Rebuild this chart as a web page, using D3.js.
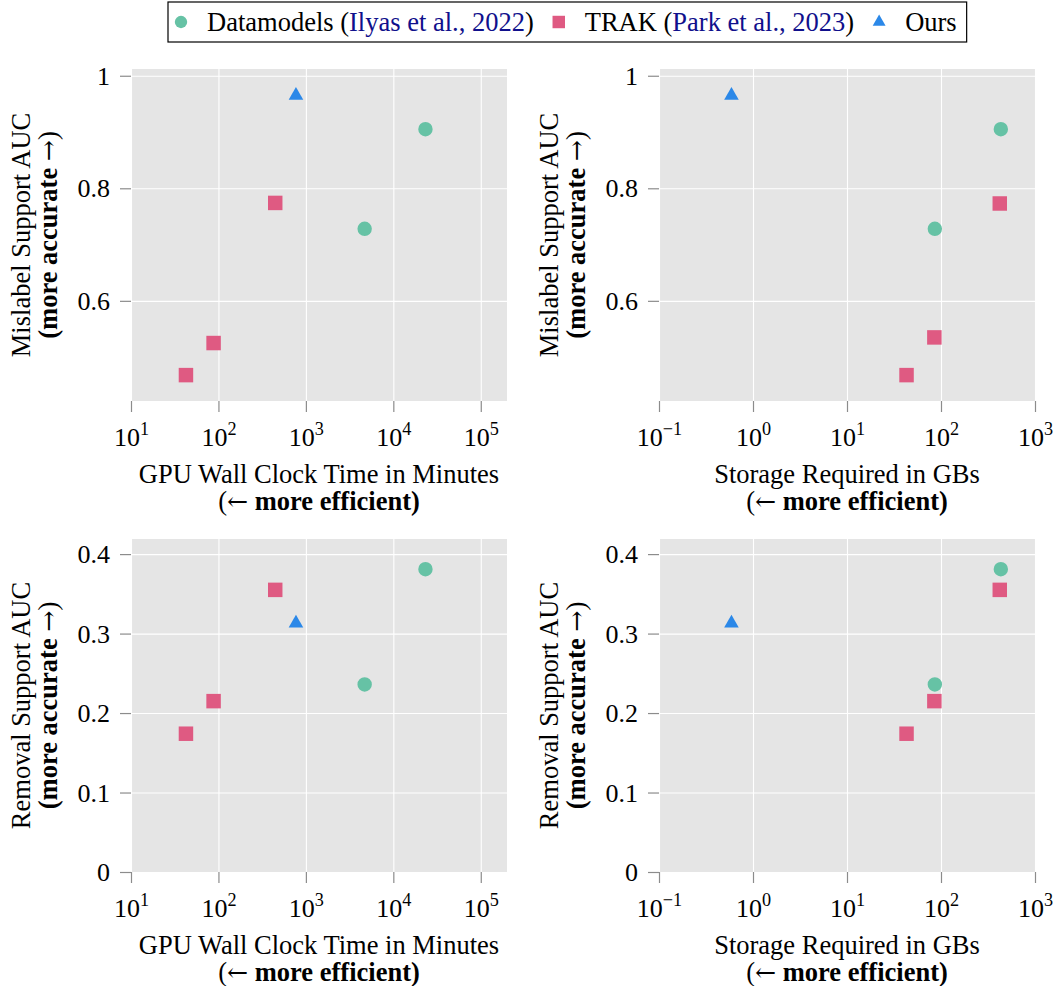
<!DOCTYPE html>
<html><head><meta charset="utf-8">
<script src="https://cdn.jsdelivr.net/npm/d3@7"></script>
<style>
body{margin:0;background:#fff;}
svg{display:block;font-family:"Liberation Serif","Times New Roman",serif;}
</style></head><body>
<svg id="chart" width="1056" height="986"></svg>
<script>
// ---------------- data ----------------
const seriesNames = ["Datamodels", "TRAK", "Ours"];
const dmTime = [4700, 23300];
const dmStorage = [86, 433];
const dmMislabel = [0.728, 0.905];
const dmRemoval = [0.236, 0.381];
const trakTime = [42.5, 88, 446];
const trakStorage = [43, 85, 422];
const trakMislabelVsTime = [0.468, 0.525, 0.774];
const trakMislabelVsStorage = [0.468, 0.535, 0.773];
const trakRemoval = [0.174, 0.215, 0.355];
const oursTime = [770];
const oursStorage = [0.59];
const oursMislabel = [0.965];
const oursRemoval = [0.313];
const timeTicks = [1e1, 1e2, 1e3, 1e4, 1e5];
const storageTicks = [1e-1, 1e0, 1e1, 1e2, 1e3];
const mislabelTicks = [0.6, 0.8, 1];
const removalTicks = [0, 0.1, 0.2, 0.3, 0.4];
const timeLabel = "GPU Wall Clock Time in Minutes";
const storageLabel = "Storage Required in GBs";
const mislabelLabel = "Mislabel Support AUC";
const removalLabel = "Removal Support AUC";

// ---------------- setup ----------------
const svg = d3.select("#chart");
const FONT = '"Liberation Serif","Times New Roman",serif';
const ARROW_FONT = '"DejaVu Serif","DejaVu Sans",serif';
const colors = {Datamodels: "#66c2a5", TRAK: "#df5a82", Ours: "#2b88e8"};
const symbols = {Datamodels: d3.symbolCircle, TRAK: d3.symbolSquare, Ours: d3.symbolTriangle};
const sizes = {Datamodels: 163, TRAK: 210, Ours: 92};
const legendSizes = {Datamodels: 120, TRAK: 155, Ours: 72};
const TICK_FONT = 26, LABEL_FONT = 26.5;

const xTime = d3.scaleLog().domain([10, Math.pow(10, 5.3)]).range([131, 507]);
const xStorage = d3.scaleLog().domain([0.1, 1000]).range([659, 1035]);
const yMislabel = d3.scaleLinear().domain([0.422, 1.012]).range([401, 69]);
const yRemoval = d3.scaleLinear().domain([0, 0.419]).range([872, 539]);

function zipPts(xs, ys) { return xs.map((x, i) => ({x: x, y: ys[i]})); }

const panels = [
  {x: xTime, y: yMislabel, xTicks: timeTicks, yTicks: mislabelTicks, xLabel: timeLabel, yLabel: mislabelLabel,
   series: {Datamodels: zipPts(dmTime, dmMislabel), TRAK: zipPts(trakTime, trakMislabelVsTime), Ours: zipPts(oursTime, oursMislabel)}},
  {x: xStorage, y: yMislabel, xTicks: storageTicks, yTicks: mislabelTicks, xLabel: storageLabel, yLabel: mislabelLabel,
   series: {Datamodels: zipPts(dmStorage, dmMislabel), TRAK: zipPts(trakStorage, trakMislabelVsStorage), Ours: zipPts(oursStorage, oursMislabel)}},
  {x: xTime, y: yRemoval, xTicks: timeTicks, yTicks: removalTicks, xLabel: timeLabel, yLabel: removalLabel,
   series: {Datamodels: zipPts(dmTime, dmRemoval), TRAK: zipPts(trakTime, trakRemoval), Ours: zipPts(oursTime, oursRemoval)}},
  {x: xStorage, y: yRemoval, xTicks: storageTicks, yTicks: removalTicks, xLabel: storageLabel, yLabel: removalLabel,
   series: {Datamodels: zipPts(dmStorage, dmRemoval), TRAK: zipPts(trakStorage, trakRemoval), Ours: zipPts(oursStorage, oursRemoval)}}
];

function yFmt(d) { return (d === 0 || d === 1) ? String(d) : d.toFixed(1); }

panels.forEach(p => {
  const [x0, x1] = p.x.range();
  const [y0, y1] = p.y.range(); // y0 bottom, y1 top
  const w = x1 - x0, h = y0 - y1;
  const g = svg.append("g");

  g.append("rect").attr("x", x0).attr("y", y1).attr("width", w).attr("height", h).attr("fill", "#e5e5e5");

  // grid
  const gx = g.append("g").attr("transform", `translate(0,${y0})`)
    .call(d3.axisBottom(p.x).tickValues(p.xTicks).tickSize(-h).tickFormat(""));
  const gy = g.append("g").attr("transform", `translate(${x0},0)`)
    .call(d3.axisLeft(p.y).tickValues(p.yTicks).tickSize(-w).tickFormat(""));
  [gx, gy].forEach(a => { a.select(".domain").remove(); a.selectAll("line").attr("stroke", "#ffffff").attr("stroke-width", 1.1); });

  // points
  seriesNames.forEach(name => {
    g.append("g").selectAll("path").data(p.series[name]).join("path")
      .attr("transform", d => `translate(${p.x(d.x)},${p.y(d.y)})`)
      .attr("d", d3.symbol().type(symbols[name]).size(sizes[name]))
      .attr("fill", colors[name]);
  });

  // axes ticks
  const ax = g.append("g").attr("transform", `translate(0,${y0})`)
    .call(d3.axisBottom(p.x).tickValues(p.xTicks).tickSize(11).tickPadding(0));
  ax.select(".domain").remove();
  ax.selectAll(".tick line").attr("stroke", "#8c8c8c").attr("stroke-width", 1.2);
  ax.selectAll(".tick text").each(function(d) {
    const t = d3.select(this);
    t.text("").attr("y", 45).attr("dy", null).attr("fill", "#000")
      .attr("font-size", TICK_FONT).attr("font-family", FONT);
    const e = Math.round(Math.log10(d));
    t.append("tspan").text("10");
    t.append("tspan").attr("dy", -11).attr("font-size", TICK_FONT * 0.7).text(String(e).replace("-", "\u2212"));
  });

  const ay = g.append("g").attr("transform", `translate(${x0},0)`)
    .call(d3.axisLeft(p.y).tickValues(p.yTicks).tickSize(11).tickPadding(10).tickFormat(yFmt));
  ay.select(".domain").remove();
  ay.selectAll(".tick line").attr("stroke", "#8c8c8c").attr("stroke-width", 1.2);
  ay.selectAll(".tick text").attr("fill", "#000").attr("font-size", TICK_FONT)
    .attr("font-family", FONT).attr("dy", "0.33em");

  // x label
  const cx = (x0 + x1) / 2;
  g.append("text").attr("x", cx).attr("y", y0 + 82).attr("text-anchor", "middle")
    .attr("font-size", LABEL_FONT).text(p.xLabel);
  const xl2 = g.append("text").attr("x", cx).attr("y", y0 + 109).attr("text-anchor", "middle")
    .attr("font-size", LABEL_FONT);
  xl2.append("tspan").text("(");
  xl2.append("tspan").attr("font-family", ARROW_FONT).attr("font-size", LABEL_FONT * 0.95).text("\u2190");
  xl2.append("tspan").text(" ");
  xl2.append("tspan").attr("font-weight", "bold").text("more efficient)");

  // y label
  const cy = (y0 + y1) / 2;
  g.append("text").attr("transform", `translate(${x0 - 101},${cy}) rotate(-90)`)
    .attr("text-anchor", "middle").attr("font-size", LABEL_FONT).text(p.yLabel);
  const yl2 = g.append("text").attr("transform", `translate(${x0 - 74},${cy}) rotate(-90)`)
    .attr("text-anchor", "middle").attr("font-size", LABEL_FONT);
  yl2.append("tspan").attr("font-weight", "bold").text("(more accurate");
  yl2.append("tspan").text(" ");
  yl2.append("tspan").attr("font-family", ARROW_FONT).attr("font-size", LABEL_FONT * 0.95).text("\u2192");
  yl2.append("tspan").text(")");
});

// ---------------- legend ----------------
const legendItems = [
  {name: "Datamodels", parts: [["Datamodels (", "#000"], ["Ilyas et al., 2022", "#10108c"], [")", "#000"]]},
  {name: "TRAK", parts: [["TRAK (", "#000"], ["Park et al., 2023", "#10108c"], [")", "#000"]]},
  {name: "Ours", parts: [["Ours", "#000"]]}
];
const lg = svg.append("g");
const box = lg.append("rect").attr("y", 2).attr("height", 40).attr("fill", "#fff")
  .attr("stroke", "#000").attr("stroke-width", 1.2);
let cur = 13;
const LY = 22;
const itemsG = lg.append("g");
legendItems.forEach((it, i) => {
  itemsG.append("path").attr("transform", `translate(${cur},${LY})`)
    .attr("d", d3.symbol().type(symbols[it.name]).size(legendSizes[it.name]))
    .attr("fill", colors[it.name]);
  cur += 26;
  const t = itemsG.append("text").attr("x", cur).attr("y", LY).attr("dy", "0.33em")
    .attr("font-size", LABEL_FONT);
  it.parts.forEach(pt => t.append("tspan").attr("fill", pt[1]).text(pt[0]));
  cur += t.node().getComputedTextLength();
  if (i < legendItems.length - 1) cur += 25;
});
cur += 10;
const boxLeft = 168;
box.attr("x", boxLeft).attr("width", cur);
itemsG.attr("transform", `translate(${boxLeft},0)`);
</script>
</body></html>
